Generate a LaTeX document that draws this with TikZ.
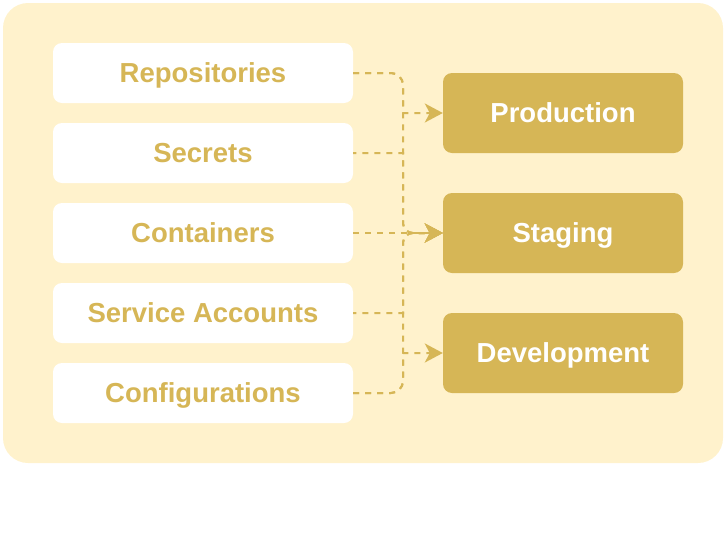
\documentclass[tikz,border=0pt]{standalone}
\usepackage{fontspec}
\setmainfont{Liberation Sans}
\usetikzlibrary{arrows.meta,calc}
\definecolor{bgy}{HTML}{FFF2CC}
\definecolor{gold}{HTML}{D6B656}
\begin{document}
\begin{tikzpicture}[x=1pt,y=-1pt,
  lbl/.style={font=\fontsize{27.5}{32}\selectfont\bfseries, text height=19.7pt, text depth=0pt},
  panel/.style={rectangle, rounded corners=25pt, fill=bgy, minimum width=720pt, minimum height=460pt, inner sep=0pt},
  src/.style={lbl, rectangle, rounded corners=9pt, fill=white, minimum width=300pt, minimum height=60pt, inner sep=0pt, text=gold},
  env/.style={lbl, rectangle, rounded corners=9pt, fill=gold, minimum width=240pt, minimum height=80pt, inner sep=0pt, text=white},
  conn/.style={draw=gold, line width=2pt, dash pattern=on 6pt off 6pt, -{Stealth[length=18pt,width=19pt,inset=5pt]}}
]
\useasboundingbox (0,0) rectangle (724,544);
\node[panel] (bg) at (363,233) {};
\node[src] (repo) at (203,73) {Repositories};
\node[src] (secr) at (203,153) {Secrets};
\node[src] (cont) at (203,233) {Containers};
\node[src] (serv) at (203,313) {Service Accounts};
\node[src] (conf) at (203,393) {Configurations};
\node[env] (prod) at (563,113) {Production};
\node[env] (stag) at (563,233) {Staging};
\node[env] (dev) at (563,353) {Development};
\coordinate (trunk) at (403,0);
\draw[conn] (repo.east) -- ($(repo.east -| trunk)+(-12,0)$)
  arc[start angle=90,end angle=0,radius=12pt] -- (prod.west -| trunk) -- (prod.west);
\draw[conn] (repo.east) -- ($(repo.east -| trunk)+(-12,0)$)
  arc[start angle=90,end angle=0,radius=12pt] -- ($(stag.west -| trunk)+(0,-10)$)
  arc[start angle=180,end angle=270,radius=10pt] -- (stag.west);
\draw[conn, dash phase=2.85pt] (secr.east) -- (secr.east -| trunk) -- ($(stag.west -| trunk)+(0,-10)$)
  arc[start angle=180,end angle=270,radius=10pt] -- (stag.west);
\draw[conn] (cont.east) -- (stag.west);
\draw[conn, dash phase=2.85pt] (serv.east) -- (serv.east -| trunk) -- ($(stag.west -| trunk)+(0,10)$)
  arc[start angle=180,end angle=90,radius=10pt] -- (stag.west);
\draw[conn] (conf.east) -- ($(conf.east -| trunk)+(-12,0)$)
  arc[start angle=270,end angle=360,radius=12pt] -- ($(stag.west -| trunk)+(0,10)$)
  arc[start angle=180,end angle=90,radius=10pt] -- (stag.west);
\draw[conn] (conf.east) -- ($(conf.east -| trunk)+(-12,0)$)
  arc[start angle=270,end angle=360,radius=12pt] -- (dev.west -| trunk) -- (dev.west);
\end{tikzpicture}
\end{document}
